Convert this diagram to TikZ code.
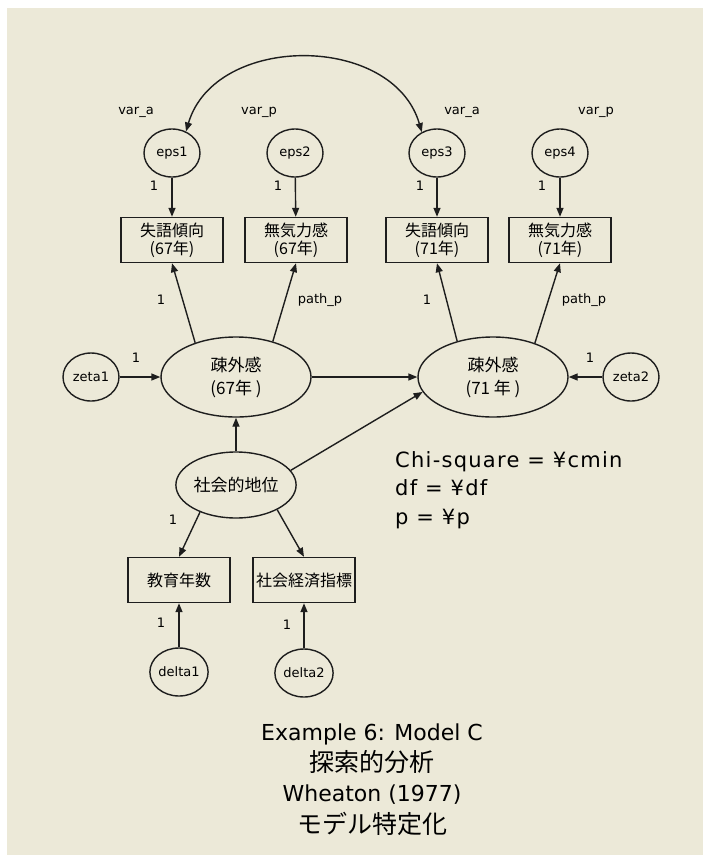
\documentclass[tikz,border=0pt]{standalone}
\usepackage{fontspec}
\setmainfont{DejaVu Sans}
\newfontfamily\jp{Noto Sans CJK JP}
\definecolor{AmosBg}{RGB}{236,233,216}
\definecolor{AmosInk}{RGB}{30,30,30}
\usetikzlibrary{arrows.meta,shapes.geometric}

\begin{document}
\begin{tikzpicture}[x=1pt, y=-1pt,
    obs/.style={rectangle, draw=AmosInk, line width=1.4pt,
                minimum width=102pt, minimum height=45pt, inner sep=2pt,
                align=center, font=\jp\fontsize{16}{18}\selectfont},
    lat/.style={ellipse, draw=AmosInk, line width=1.4pt,
                minimum width=150pt, minimum height=80pt, inner sep=0pt,
                align=center, font=\jp\fontsize{17}{23}\selectfont},
    err/.style={ellipse, draw=AmosInk, line width=1.4pt,
                minimum width=56pt, minimum height=48pt, inner sep=0pt,
                font=\fontsize{13}{15}\selectfont},
    lbl/.style={inner sep=0pt, font=\fontsize{13}{15}\selectfont},
    stat/.style={inner sep=0pt, anchor=base west,
                 font=\fontsize{21}{24}\selectfont\addfontfeatures{LetterSpace=6}},
    ttl/.style={inner sep=0pt, font=\fontsize{22}{26}\selectfont},
    ttljp/.style={inner sep=0pt, font=\jp\fontsize{25}{28}\selectfont},
    arr/.style={-{Triangle[length=9pt,width=7pt]}, line width=1.4pt, AmosInk},
    dblarr/.style={{Triangle[length=9pt,width=7pt]}-{Triangle[length=9pt,width=7pt]},
                   line width=1.4pt, AmosInk}
  ]
  \useasboundingbox (0,0) rectangle (703,855);
  \fill[white] (0,0) rectangle (703,855);
  \fill[AmosBg] (7,8) rectangle (703,855);

  % error terms of the indicators
  \node[err] (eps1) at (172,153) {eps1};
  \node[err] (eps2) at (295,153) {eps2};
  \node[err] (eps3) at (437,153) {eps3};
  \node[err] (eps4) at (560,153) {eps4};
  \node[lbl] (v1) at (136,112) {var\_a};
  \node[lbl] (v2) at (259,112) {var\_p};
  \node[lbl] (v3) at (462,112) {var\_a};
  \node[lbl] (v4) at (596,112) {var\_p};

  % observed variables
  \node[obs] (x1) at (172,240) {失語傾向\\(67年)};
  \node[obs] (x2) at (296,240) {無気力感\\(67年)};
  \node[obs] (x3) at (437,240) {失語傾向\\(71年)};
  \node[obs] (x4) at (560,240) {無気力感\\(71年)};
  \node[obs] (x5) at (179,580) {教育年数};
  \node[obs] (x6) at (304,580) {社会経済指標};

  % latent variables
  \node[lat] (lat1) at (236,377) {疎外感\\(67年 )};
  \node[lat] (lat2) at (493,377) {疎外感\\(71 年 )};
  \node[lat, minimum width=114pt, minimum height=66pt] (ses) at (236,485) {社会的地位};
  \node[err] (zeta1) at (91,377) {zeta1};
  \node[err] (zeta2) at (631,377) {zeta2};
  \node[err] (delta1) at (179,672) {delta1};
  \node[err] (delta2) at (304,673) {delta2};

  % paths
  \draw[dblarr] (eps1.57) .. controls (215,33) and (393,33) .. (eps3.126);
  \draw[arr] (eps1) -- (x1);
  \draw[arr] (eps2) -- (x2);
  \draw[arr] (eps3) -- (x3);
  \draw[arr] (eps4) -- (x4);
  \draw[arr] (lat1.140) -- (x1.south);
  \draw[arr] (lat1.44) -- (x2.south);
  \draw[arr] (lat2.135) -- (x3.south);
  \draw[arr] (lat2.39) -- (x4.south);
  \draw[arr] (zeta1) -- (lat1);
  \draw[arr] (zeta2) -- (lat2);
  \draw[arr] (lat1) -- (lat2);
  \draw[arr] (ses) -- (lat1);
  \draw[arr] (ses.15) -- (lat2.192);
  \draw[arr] (ses.217) -- (x5.north);
  \draw[arr] (ses.329) -- (x6.north);
  \draw[arr] (delta1) -- (x5);
  \draw[arr] (delta2) -- (x6);

  % path labels
  \node[lbl] (w1) at (154,186) {1};
  \node[lbl] (w2) at (278,186) {1};
  \node[lbl] (w3) at (420,186) {1};
  \node[lbl] (w4) at (542,186) {1};
  \node[lbl] (l1) at (161,300) {1};
  \node[lbl] (l2) at (320,300) {path\_p};
  \node[lbl] (l3) at (427,300) {1};
  \node[lbl] (l4) at (584,300) {path\_p};
  \node[lbl] (z1) at (136,358) {1};
  \node[lbl] (z2) at (590,358) {1};
  \node[lbl] (s1) at (173,520) {1};
  \node[lbl] (d1) at (161,623) {1};
  \node[lbl] (d2) at (287,625) {1};

  % fit statistics
  \node[stat] (chi) at (395,467) {Chi-square = ¥cmin};
  \node[stat] (df) at (395,495) {df = ¥df};
  \node[stat] (pv) at (395,524) {p = ¥p};

  % title
  \node[ttl, anchor=base] (t1) at (372,740) {Example 6: Model C};
  \node[ttljp] (t2) at (372,762) {探索的分析};
  \node[ttl, anchor=base] (t3) at (372,801) {Wheaton (1977)};
  \node[ttljp] (t4) at (372,824) {モデル特定化};
\end{tikzpicture}
\end{document}
